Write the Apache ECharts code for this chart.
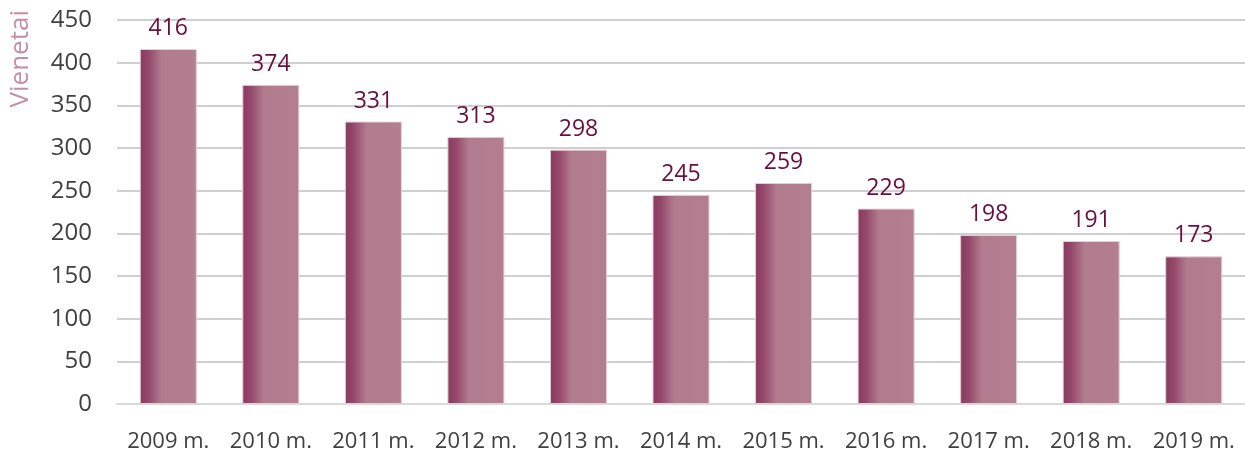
<!DOCTYPE html>
<html>
<head>
<meta charset="utf-8">
<script src="https://cdn.jsdelivr.net/npm/echarts@6/dist/echarts.min.js"></script>
<style>
  html, body { margin: 0; padding: 0; background: #fff; }
  #main { width: 1245px; height: 450px; }
</style>
</head>
<body>
<div id="main"></div>
<script>
var years = ['2009 m.', '2010 m.', '2011 m.', '2012 m.', '2013 m.', '2014 m.', '2015 m.', '2016 m.', '2017 m.', '2018 m.', '2019 m.'];
var counts = [416, 374, 331, 313, 298, 245, 259, 229, 198, 191, 173];

var chartDom = document.getElementById('main');
var myChart = echarts.init(chartDom);
var option;

var barColor = new echarts.graphic.LinearGradient(0, 0, 1, 0, [
    { offset: 0, color: '#8a3a5f' },
    { offset: 0.15, color: '#94486b' },
    { offset: 0.38, color: '#b17c8e' },
    { offset: 1, color: '#b27e90' }
]);

option = {
    animation: false,
    textStyle: { fontFamily: 'Open Sans' },
    grid: { left: 117, right: 0, top: 20, bottom: 46, outerBoundsMode: 'none' },
    graphic: [{
        type: 'text',
        left: 8,
        top: 10,
        rotation: Math.PI / 2,
        style: {
            text: 'Vienetai',
            fill: '#c48ea4',
            fontSize: 26,
            fontFamily: 'Open Sans'
        }
    }],
    xAxis: {
        type: 'category',
        data: years,
        axisTick: { show: false },
        axisLine: { lineStyle: { color: '#d9d9d9', width: 2 } },
        axisLabel: { color: '#404040', fontSize: 22, margin: 27, interval: 0, hideOverlap: false }
    },
    yAxis: {
        type: 'value',
        min: 0,
        max: 450,
        interval: 50,
        axisLine: { show: false },
        axisTick: { show: false },
        axisLabel: { color: '#404040', fontSize: 24, margin: 25 },
        splitLine: { lineStyle: { color: '#bfbfbf', width: 1.5 } }
    },
    series: [{
        type: 'bar',
        data: counts,
        barWidth: 57,
        itemStyle: { color: barColor, borderColor: '#e6cdd7', borderWidth: 1 },
        label: {
            show: true,
            position: 'top',
            distance: 9,
            color: '#6b0d3f',
            fontSize: 23
        }
    }]
};

option && myChart.setOption(option);
</script>
</body>
</html>
